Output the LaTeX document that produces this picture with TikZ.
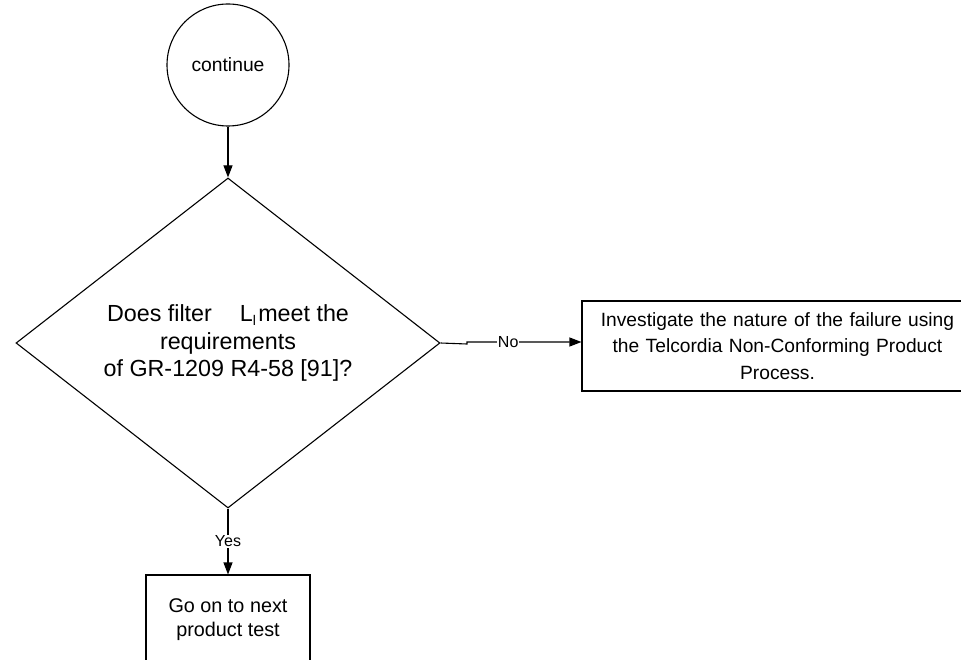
\documentclass[tikz,border=0pt]{standalone}
\usepackage{fontspec}
\setmainfont{Liberation Sans}
\usetikzlibrary{shapes.geometric,arrows.meta}
\begin{document}
\begin{tikzpicture}[x=1pt,y=-1pt, line width=1.1pt,
  flow/.style={draw, -{Triangle[length=12pt,width=9pt]}},
  lbl/.style={font=\fontsize{16}{18}\selectfont, fill=white, inner sep=1pt}]
\useasboundingbox (0,0) rectangle (961,660);
\node[draw, circle, minimum size=122pt, inner sep=0, font=\fontsize{19.3}{23}\selectfont] (c) at (228,65) {continue};
\node[draw, diamond, aspect=1.285, minimum width=424pt, minimum height=330pt, inner sep=0, align=center, font=\fontsize{23.3}{27.5}\selectfont] (d) at (228,343) {Does filter\hspace{1.2em}L\raisebox{-0.35ex}{\fontsize{14}{14}\selectfont l}\hspace{0.1em}meet the\\requirements\\of GR-1209 R4-58 [91]?};
\node[draw, rectangle, minimum width=391pt, minimum height=90pt, inner sep=0, align=center, text width=380pt, font=\fontsize{19.2}{26.5}\selectfont] (inv) at (777.5,346) {Investigate the nature of the failure using\\the Telcordia Non-Conforming Product\\Process.};
\node[draw, rectangle, minimum width=164pt, minimum height=90pt, inner sep=0, align=center, font=\fontsize{19.8}{24}\selectfont] (go) at (228,620) {Go on to next\\product test};
\coordinate (j1) at (467,344);
\coordinate (j2) at (467,342);
\draw[flow] (c) -- (d);
\draw[flow] (d.east) -- (j1) -- (j2) -- node[lbl,pos=0.36]{No} (j2 -| inv.west);
\draw[flow] (d.south) -- node[lbl]{Yes} (go.north);
\end{tikzpicture}
\end{document}
